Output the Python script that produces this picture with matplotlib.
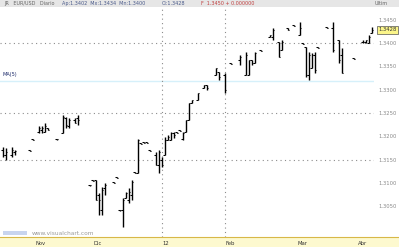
import matplotlib.pyplot as plt
import matplotlib.transforms as mtransforms
from matplotlib.patches import Rectangle

# daily OHLC bars (day index from chart start)
days = [1, 2, 4, 5, 10, 11, 13, 14, 15, 16, 19, 21, 22, 23, 25, 26,
        30, 31, 32, 33, 34, 35, 38, 39, 40, 41, 42, 43, 44, 45, 46, 47, 48, 49, 50,
        52, 53, 54, 55, 56, 57, 58, 59, 60, 61, 62, 63, 64, 66, 68, 69,
        72, 73, 75, 77, 80, 82, 83, 84, 85, 87, 90, 91, 93, 94, 96, 98,
        100, 101, 102, 103, 104, 105, 106, 109, 111, 113, 114, 118, 121, 122, 123, 124]
opens = [1.3170, 1.3160, 1.3160, 1.3166, 1.3170, 1.3194, 1.3209, 1.3213, 1.3209, 1.3218, 1.3194, 1.3207, 1.3239, 1.3222, 1.3235, 1.3239,
         1.3095, 1.3106, 1.3106, 1.3074, 1.3042, 1.3089, 1.3102, 1.3112, 1.3042, 1.3042, 1.3067, 1.3063, 1.3074, 1.3123, 1.3121, 1.3185, 1.3188, 1.3188, 1.3170,
         1.3160, 1.3138, 1.3149, 1.3160, 1.3192, 1.3192, 1.3207, 1.3209, 1.3213, 1.3194, 1.3209, 1.3235, 1.3271, 1.3278, 1.3303, 1.3310,
         1.3331, 1.3338, 1.3331, 1.3357, 1.3364, 1.3331, 1.3331, 1.3364, 1.3357, 1.3385, 1.3413, 1.3413, 1.3402, 1.3385, 1.3432, 1.3439,
         1.3417, 1.3400, 1.3391, 1.3331, 1.3346, 1.3374, 1.3391, 1.3434, 1.3432, 1.3406, 1.3374, 1.3368, 1.3402, 1.3402, 1.3400, 1.3421]
highs = [1.3177, 1.3175, 1.3177, 1.3170, 1.3170, 1.3194, 1.3222, 1.3222, 1.3228, 1.3218, 1.3194, 1.3245, 1.3241, 1.3239, 1.3239, 1.3245,
         1.3095, 1.3106, 1.3106, 1.3078, 1.3091, 1.3100, 1.3102, 1.3112, 1.3042, 1.3067, 1.3080, 1.3089, 1.3106, 1.3123, 1.3194, 1.3185, 1.3188, 1.3188, 1.3170,
         1.3166, 1.3170, 1.3155, 1.3198, 1.3203, 1.3209, 1.3209, 1.3209, 1.3213, 1.3209, 1.3235, 1.3271, 1.3278, 1.3293, 1.3310, 1.3310,
         1.3346, 1.3338, 1.3336, 1.3357, 1.3374, 1.3381, 1.3364, 1.3364, 1.3381, 1.3385, 1.3417, 1.3432, 1.3402, 1.3406, 1.3432, 1.3439,
         1.3445, 1.3400, 1.3391, 1.3381, 1.3379, 1.3381, 1.3391, 1.3434, 1.3445, 1.3406, 1.3389, 1.3368, 1.3406, 1.3406, 1.3417, 1.3434]
lows = [1.3155, 1.3149, 1.3155, 1.3160, 1.3168, 1.3192, 1.3207, 1.3207, 1.3209, 1.3213, 1.3192, 1.3207, 1.3218, 1.3218, 1.3228, 1.3224,
        1.3093, 1.3104, 1.3063, 1.3031, 1.3031, 1.3074, 1.3100, 1.3110, 1.3040, 1.3005, 1.3067, 1.3057, 1.3063, 1.3121, 1.3121, 1.3183, 1.3186, 1.3186, 1.3168,
        1.3138, 1.3121, 1.3134, 1.3160, 1.3192, 1.3192, 1.3196, 1.3207, 1.3211, 1.3192, 1.3209, 1.3235, 1.3271, 1.3278, 1.3303, 1.3299,
        1.3331, 1.3321, 1.3293, 1.3355, 1.3353, 1.3331, 1.3331, 1.3353, 1.3357, 1.3383, 1.3413, 1.3406, 1.3370, 1.3385, 1.3428, 1.3437,
        1.3417, 1.3398, 1.3327, 1.3321, 1.3346, 1.3336, 1.3389, 1.3432, 1.3381, 1.3357, 1.3336, 1.3366, 1.3400, 1.3400, 1.3400, 1.3421]
closes = [1.3160, 1.3166, 1.3170, 1.3168, 1.3168, 1.3192, 1.3218, 1.3218, 1.3222, 1.3213, 1.3194, 1.3241, 1.3224, 1.3235, 1.3228, 1.3235,
          1.3095, 1.3104, 1.3063, 1.3063, 1.3085, 1.3095, 1.3100, 1.3110, 1.3042, 1.3063, 1.3078, 1.3080, 1.3102, 1.3121, 1.3192, 1.3183, 1.3186, 1.3186, 1.3168,
          1.3138, 1.3166, 1.3138, 1.3192, 1.3198, 1.3207, 1.3203, 1.3207, 1.3211, 1.3207, 1.3235, 1.3271, 1.3278, 1.3293, 1.3310, 1.3303,
          1.3346, 1.3327, 1.3299, 1.3355, 1.3370, 1.3374, 1.3364, 1.3357, 1.3379, 1.3383, 1.3417, 1.3428, 1.3370, 1.3402, 1.3428, 1.3437,
          1.3432, 1.3398, 1.3331, 1.3374, 1.3374, 1.3342, 1.3389, 1.3432, 1.3385, 1.3364, 1.3336, 1.3366, 1.3402, 1.3406, 1.3413, 1.3428]

price_ticks = [1.3450, 1.3400, 1.3350, 1.3300, 1.3250, 1.3200, 1.3150, 1.3100, 1.3050]
levels = [1.3400, 1.3250, 1.3150]
ma_level = 1.3319
month_days = [11.7, 31, 54, 75, 99, 119]
month_labels = ["Nov", "Dic", "12", "Feb", "Mar", "Abr"]
year_marks = [54, 75]

W, H = 399, 247
fig = plt.figure(figsize=(W / 100, H / 100), dpi=100)
fig.patch.set_facecolor("white")

# header band and date strip
fig.patches.append(Rectangle((0, (H - 7) / H), 1, 7 / H, transform=fig.transFigure,
                             facecolor="#e6e6e6", edgecolor="none", zorder=0))
fig.patches.append(Rectangle((0, 0), 1, 10 / H, transform=fig.transFigure,
                             facecolor="#fdf9cf", edgecolor="none", zorder=0))
fig.add_artist(plt.Line2D([0, 1], [10 / H, 10 / H], transform=fig.transFigure,
                          color="#d8b848", lw=0.8))

ax = fig.add_axes([0, 10 / H, 374 / W, 229 / H])
ax.set_facecolor("white")
for s in ax.spines.values():
    s.set_visible(False)

ax.set_xlim(0, 374 / 3)
ax.set_ylim(1.29837, 1.34751)

for lv in levels:
    ax.axhline(lv, color="#8c8c8c", lw=0.8, ls=(0, (1, 3)), zorder=1)
ax.axhline(ma_level, color="#d6f0fa", lw=1.0, zorder=1)
for d in year_marks:
    ax.axvline(d, ymin=0, ymax=1.03, color="#8c8c8c", lw=0.8, ls=(0, (1, 3)),
               clip_on=False, zorder=1)

ax.vlines(days, lows, highs, color="black", lw=1.0, zorder=3)
ax.hlines(opens, [d - 0.5 for d in days], days, color="black", lw=0.75, zorder=3)
ax.hlines(closes, days, [d + 0.5 for d in days], color="black", lw=0.75, zorder=3)

ax.yaxis.tick_right()
ax.set_yticks(price_ticks)
ax.set_yticklabels([f"{p:.4f}" for p in price_ticks], fontsize=3.8, color="#8a8a8a")
ax.tick_params(axis="y", length=0, pad=3)
ax.set_xticks([])

# last price highlight
trans = mtransforms.blended_transform_factory(ax.transAxes, ax.transData)
ax.text(1.012, closes[-1], f"{closes[-1]:.4f}", transform=trans, fontsize=3.8,
        va="center", ha="left", color="#333333",
        bbox=dict(boxstyle="square,pad=0.2", facecolor="#fbf58a", edgecolor="#555555", lw=0.5))

ax.text(0.006, ma_level + 0.0010, "MA(5)", transform=trans, fontsize=3.6, color="#1c2a6a")

# date labels
for d, lab in zip(month_days, month_labels):
    fig.text(d * 3 / W + 0.002, 4 / H, lab, fontsize=3.8, color="#333333", va="center", ha="left")

# header texts
fig.text(0.01, (H - 3.5) / H, "JR   EUR/USD   Diario", fontsize=3.5, color="#666666", va="center")
fig.text(0.155, (H - 3.5) / H, "Ap:1.3402  Mx:1.3434  Mn:1.3400", fontsize=3.5, color="#4a5a8a", va="center")
fig.text(0.405, (H - 3.5) / H, "Ci:1.3428", fontsize=3.5, color="#4a5a8a", va="center")
fig.text(0.505, (H - 3.5) / H, "F  1.3450 + 0.000000", fontsize=3.5, color="#c04040", va="center")
fig.text(0.955, (H - 3.5) / H, "Ultim", fontsize=3.5, color="#666666", va="center", ha="center")

# watermark
fig.patches.append(Rectangle((3 / W, 12 / H), 24 / W, 4 / H, transform=fig.transFigure,
                             facecolor="#c8d4ee", edgecolor="none"))
fig.text(32 / W, 14 / H, "www.visualchart.com", fontsize=4.2, color="#9a9a9a", va="center")

fig.savefig("out.png", dpi=100)
